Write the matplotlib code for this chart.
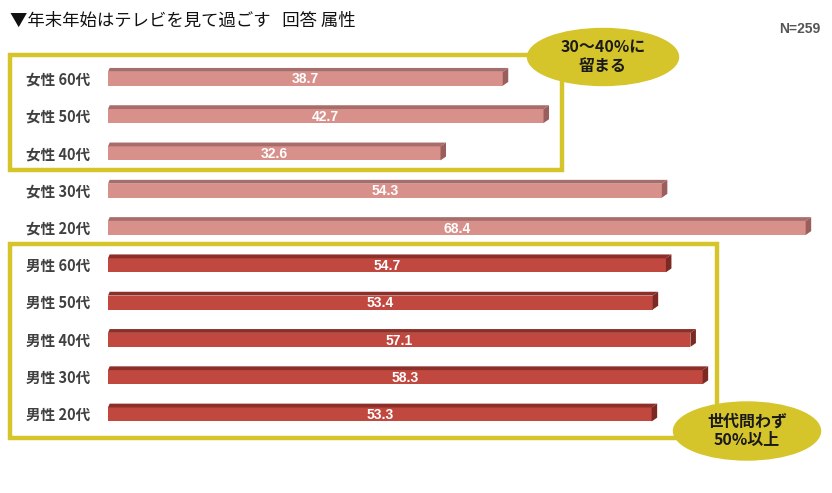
import matplotlib
matplotlib.use("Agg")
import matplotlib.pyplot as plt
from matplotlib.patches import Polygon, Rectangle, Ellipse

plt.rcParams['font.family'] = ['Noto Sans CJK JP', 'DejaVu Sans']

# ---- data ----
categories = ["女性 60代", "女性 50代", "女性 40代", "女性 30代", "女性 20代",
              "男性 60代", "男性 50代", "男性 40代", "男性 30代", "男性 20代"]
values = [38.7, 42.7, 32.6, 54.3, 68.4, 54.7, 53.4, 57.1, 58.3, 53.3]
groups = ["女性"] * 5 + ["男性"] * 5
title = "▼年末年始はテレビを見て過ごす   回答 属性"
n_label = "N=259"
note_top = "30～40%に\n留まる"
note_bottom = "世代問わず\n50%以上"

colors = {
    "女性": dict(front="#D8908B", top="#A86C6A", side="#9A5F5D"),
    "男性": dict(front="#C0483F", top="#8C2F29", side="#7C2924"),
}
yellow = "#D5C52B"

W, H = 832, 493
fig = plt.figure(figsize=(W / 100, H / 100), dpi=100)

# bar axes: x 0 -> px 108, 10.2 px/unit; rows centered at 78 + 37.3*i
px_per_unit = 10.2
row_h = 37.3
x_left = 108
xmax = (W - 6 - x_left) / px_per_unit
top_px = 78 - row_h / 2
bot_px = 78 + 9.5 * row_h
ax = fig.add_axes([x_left / W, 1 - bot_px / H, (W - 6 - x_left) / W, (bot_px - top_px) / H])
ax.set_xlim(0, xmax)
ax.set_ylim(9.5, -0.5)

bar_h = 14 / row_h
dx = 5.5 / px_per_unit
dy = 3.8 / row_h
for i, (v, g) in enumerate(zip(values, groups)):
    c = colors[g]
    y0 = i - bar_h / 2 + 0.02
    y1 = i + bar_h / 2 + 0.02
    ax.barh(i + 0.02, v, height=bar_h, color=c["front"], zorder=3)
    ax.add_patch(Polygon([(0, y0), (v, y0), (v + dx, y0 - dy), (dx * 0.3, y0 - dy)],
                         closed=True, color=c["top"], zorder=3, lw=0))
    ax.add_patch(Polygon([(v, y0), (v + dx, y0 - dy), (v + dx, y1 - dy), (v, y1)],
                         closed=True, color=c["side"], zorder=3, lw=0))
    ax.text(v / 2, i + 0.04, f"{v:.1f}", ha="center", va="center", color="white",
            fontsize=10, fontweight="bold", family=["Liberation Sans", "DejaVu Sans"], zorder=4)

ax.set_yticks(range(len(categories)))
ax.set_yticklabels(categories, fontsize=10.5, fontweight="bold", color="#404040")
ax.tick_params(axis="y", length=0, pad=13)
ax.tick_params(axis="x", length=0, labelbottom=False)
for s in ax.spines.values():
    s.set_visible(False)
ax.set_xticks([])
ax.patch.set_alpha(0)

# overlay for annotations in pixel space
ov = fig.add_axes([0, 0, 1, 1], zorder=5)
ov.set_xlim(0, W)
ov.set_ylim(H, 0)
ov.axis("off")
ov.patch.set_alpha(0)

ov.add_patch(Rectangle((10, 55), 552, 115, fill=False, ec=yellow, lw=3.2))
ov.add_patch(Rectangle((10, 244), 707, 194, fill=False, ec=yellow, lw=3.2))
ov.add_patch(Ellipse((603, 57), 151, 57, color=yellow))
ov.add_patch(Ellipse((747, 431), 147, 58, color=yellow))
ov.text(603, 57, note_top, ha="center", va="center", fontsize=11.5, fontweight="bold",
        color="#1a1a1a", linespacing=1.2)
ov.text(747, 431, note_bottom, ha="center", va="center", fontsize=11.5, fontweight="bold",
        color="#1a1a1a", linespacing=1.2)

ov.text(10, 21, title, ha="left", va="center", fontsize=12.5, color="#111111")
ov.text(820, 29, n_label, ha="right", va="center", fontsize=10, fontweight="bold",
        color="#555555", family=["Liberation Sans", "DejaVu Sans"])

fig.savefig("out.png", dpi=100)
